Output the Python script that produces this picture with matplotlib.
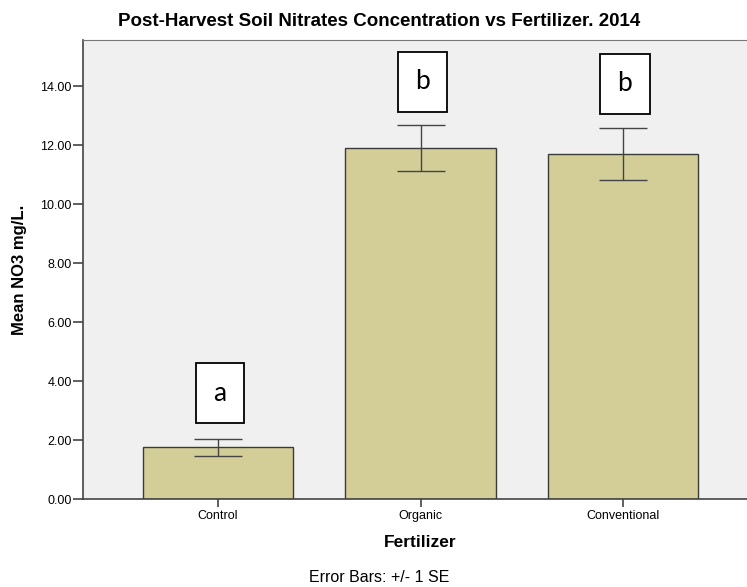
import numpy as np
import matplotlib
matplotlib.use("Agg")
import matplotlib.pyplot as plt

# data
groups = ["Control", "Organic", "Conventional"]
means = [1.75, 11.91, 11.70]
se = [0.29, 0.78, 0.89]
letters = ["a", "b", "b"]
letter_y = [3.58, 14.15, 14.07]
yticks = [0, 2, 4, 6, 8, 10, 12, 14]

plt.rcParams['font.family'] = ['Liberation Sans', 'DejaVu Sans']

fig = plt.figure(figsize=(7.47, 5.87), dpi=100)
ax = fig.add_axes([83/747, 88/587, 675/747, 459/587])
ax.set_facecolor('#f0f0f0')

x = np.arange(len(groups))
ax.bar(x, means, width=0.745, color='#d3ce98', edgecolor='#3a3a3a', linewidth=1.0, zorder=2)
ax.errorbar(x, means, yerr=se, fmt='none', ecolor='#444444', elinewidth=1.0,
            capsize=17, capthick=1.0, zorder=3)

for xi, lab, ly in zip(x, letters, letter_y):
    ax.text(xi + 0.01, ly, lab, ha='center', va='center', fontsize=19,
            family=['Lato', 'DejaVu Sans'],
            bbox=dict(boxstyle='square,pad=0.66', facecolor='white',
                      edgecolor='black', linewidth=1.3), zorder=4)

ax.set_xlim(-0.667, 2.667)
ax.set_ylim(0, 15.56)
ax.set_yticks(yticks)
ax.set_yticklabels(["%.2f" % v for v in yticks], fontsize=9)
ax.set_xticks(x)
ax.set_xticklabels(groups, fontsize=9)
ax.tick_params(axis='y', direction='out', length=7, color='#444444', width=1.2, pad=1)
ax.tick_params(axis='x', direction='out', length=6, color='#444444', width=1.2, pad=2)

for s in ['left', 'bottom']:
    ax.spines[s].set_color('#444444')
    ax.spines[s].set_linewidth(1.2)
ax.spines['top'].set_color('#777777')
ax.spines['right'].set_visible(False)

ax.set_ylabel("Mean NO3 mg/L.", fontsize=12, fontweight='bold', labelpad=10)
ax.set_xlabel("Fertilizer", fontsize=12.5, fontweight='bold', labelpad=9)

fig.text(379/747, 1 - 21/587, "Post-Harvest Soil Nitrates Concentration vs Fertilizer. 2014",
         ha='center', va='center', fontsize=13.5, fontweight='bold')
fig.text(379/747, 1 - 577/587, "Error Bars: +/- 1 SE", ha='center', va='center', fontsize=11.5)

fig.savefig("out.png", dpi=100)
